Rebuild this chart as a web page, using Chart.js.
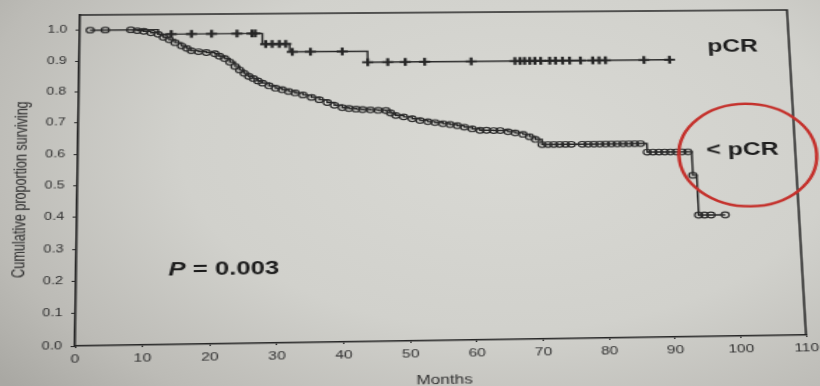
<!DOCTYPE html>
<html>
<head>
<meta charset="utf-8">
<script src="https://cdn.jsdelivr.net/npm/chart.js@4.4.1/dist/chart.umd.min.js"></script>
<style>
  html, body {
    margin: 0;
    width: 820px;
    height: 386px;
    overflow: hidden;
    background: radial-gradient(ellipse 80% 95% at 62% 38%, #d9d9d4 0%, #d1d1cc 50%, #bcbbb6 82%, #a9a8a3 100%);
  }
  #wrap {
    position: absolute;
    left: 0;
    top: 0;
    width: 600px;
    height: 400px;
    transform-origin: 0 0;
    filter: blur(0.4px);
  }
</style>
</head>
<body>
<div id="wrap"><canvas id="chart"></canvas></div>
<script>
// < pCR group: censor circles along the curve (months, proportion surviving)
const lowTimes = [
  1.6, 3.9, 7.8, 8.8, 9.8, 10.9, 12.0, 12.8, 13.7, 14.6, 15.6, 16.4, 17.1, 18.2, 19.4,
  20.7, 21.4, 22.2, 23.0, 23.8, 24.5, 25.2, 25.9, 26.6, 27.3, 28.0, 29.0, 30.0, 31.0,
  32.0, 33.0, 34.2, 35.5, 36.7, 37.9, 39.0, 40.2, 41.2, 42.3, 43.3, 44.5, 45.7, 46.9,
  47.6, 48.4, 49.6, 50.9, 52.1, 53.3, 54.4, 55.6, 56.7, 57.8, 58.9, 60.1, 61.3, 62.3,
  63.4, 64.4, 65.6, 66.7, 67.9, 68.9, 69.8, 70.8, 71.7, 72.6, 73.5, 74.4, 75.3, 77.0,
  77.9, 78.8, 79.7, 80.6, 81.5, 82.4, 83.3, 84.2, 85.1, 86.0, 87.0, 87.9, 88.8, 89.7,
  90.6, 91.5, 92.4, 93.3, 93.9, 94.5, 95.4, 96.4, 98.6
];
const lowSurv = [
  1.000, 1.000, 1.000, 0.997, 0.995, 0.990, 0.985, 0.975, 0.967, 0.957, 0.946, 0.938, 0.930, 0.927, 0.924,
  0.920, 0.912, 0.904, 0.892, 0.878, 0.866, 0.855, 0.845, 0.838, 0.830, 0.823, 0.814, 0.806, 0.801,
  0.795, 0.790, 0.783, 0.775, 0.767, 0.758, 0.749, 0.741, 0.738, 0.736, 0.734, 0.733, 0.731, 0.730,
  0.722, 0.714, 0.709, 0.703, 0.697, 0.693, 0.690, 0.686, 0.683, 0.679, 0.674, 0.668, 0.663, 0.663,
  0.662, 0.662, 0.658, 0.654, 0.649, 0.641, 0.632, 0.615, 0.615, 0.615, 0.615, 0.615, 0.615, 0.615,
  0.615, 0.615, 0.615, 0.615, 0.615, 0.615, 0.615, 0.615, 0.615, 0.615, 0.587, 0.587, 0.587, 0.587,
  0.587, 0.587, 0.587, 0.587, 0.511, 0.383, 0.383, 0.383, 0.383
];

// pCR group: steps of the curve, then the censor crosses
const pcrStepTimes = [1.6, 12.0, 28.0, 32.2, 44.2, 91.1];
const pcrStepSurv = [1.0, 0.985, 0.950, 0.924, 0.888, 0.888];
const pcrCensorTimes = [
  14.0, 17.1, 20.2, 24.1, 26.4, 26.9, 28.5, 29.5, 30.6, 31.6, 32.6, 35.4, 40.3,
  44.2, 47.3, 50.0, 53.0, 60.2, 67.0, 67.8, 68.5, 69.3, 70.1, 71.0, 72.4, 73.3,
  74.4, 75.5, 77.2, 79.1, 80.1, 81.1, 87.1, 91.1
];
const pcrCensorSurv = [
  0.985, 0.985, 0.985, 0.985, 0.985, 0.985, 0.950, 0.950, 0.950, 0.950, 0.924, 0.924, 0.924,
  0.888, 0.888, 0.888, 0.888, 0.888, 0.888, 0.888, 0.888, 0.888, 0.888, 0.888, 0.888, 0.888,
  0.888, 0.888, 0.888, 0.888, 0.888, 0.888, 0.888, 0.888
];

const xTicks = [0, 10, 20, 30, 40, 50, 60, 70, 80, 90, 100, 110];
const yTicks = [0, 0.1, 0.2, 0.3, 0.4, 0.5, 0.6, 0.7, 0.8, 0.9, 1.0];

const ink = "#262626";
const pts = (xs, ys) => xs.map((x, i) => ({ x: x, y: ys[i] }));

// frame, labels, p value and the red ring drawn on top
const extras = {
  id: "extras",
  afterDraw: (chart) => {
    const { ctx, chartArea: a, scales } = chart;
    const sx = scales.x, sy = scales.y;
    ctx.save();
    ctx.strokeStyle = ink;
    ctx.lineWidth = 1.5;
    ctx.beginPath();
    ctx.moveTo(a.left, a.top);
    ctx.lineTo(a.right, a.top);
    ctx.lineTo(a.right, a.bottom);
    ctx.stroke();

    ctx.fillStyle = "#1c1c1c";
    ctx.textAlign = "center";
    ctx.textBaseline = "middle";
    ctx.font = "bold 18px 'Liberation Sans', Arial, sans-serif";
    ctx.fillText("pCR", sx.getPixelForValue(101.1), sy.getPixelForValue(0.929));
    ctx.fillText("< pCR", sx.getPixelForValue(101.8), sy.getPixelForValue(0.59));

    // P = 0.003 with an italic P
    const px = sx.getPixelForValue(22.1), py = sy.getPixelForValue(0.229);
    ctx.font = "italic bold 18px 'Liberation Sans', Arial, sans-serif";
    const wP = ctx.measureText("P").width;
    ctx.font = "bold 18px 'Liberation Sans', Arial, sans-serif";
    const rest = " = 0.003";
    const wR = ctx.measureText(rest).width;
    const x0 = px - (wP + wR) / 2;
    ctx.textAlign = "left";
    ctx.font = "italic bold 18px 'Liberation Sans', Arial, sans-serif";
    ctx.fillText("P", x0, py);
    ctx.font = "bold 18px 'Liberation Sans', Arial, sans-serif";
    ctx.fillText(rest, x0 + wP, py);

    // y axis title
    ctx.save();
    ctx.translate(15.5, 188);
    ctx.rotate(-Math.PI / 2);
    ctx.textAlign = "center";
    ctx.fillStyle = "#2e2e2e";
    ctx.font = "12.5px 'Liberation Sans', Arial, sans-serif";
    ctx.fillText("Cumulative proportion surviving", 0, 0);
    ctx.restore();

    // red ring around < pCR
    ctx.strokeStyle = "#c4302b";
    ctx.lineWidth = 2.5;
    ctx.beginPath();
    ctx.ellipse(sx.getPixelForValue(102.6), sy.getPixelForValue(0.575), 50, 52, 0, 0, Math.PI * 2);
    ctx.stroke();
    ctx.restore();
  },
};

const chart = new Chart(document.querySelector("#chart"), {
  type: "scatter",
  data: {
    datasets: [
      {
        label: "pCR",
        data: pts(pcrStepTimes, pcrStepSurv),
        showLine: true,
        stepped: true,
        borderColor: ink,
        borderWidth: 1.4,
        pointRadius: 0,
      },
      {
        label: "pCR censored",
        data: pts(pcrCensorTimes, pcrCensorSurv),
        showLine: false,
        pointStyle: "cross",
        pointRadius: 4,
        borderColor: ink,
        borderWidth: 2.2,
      },
      {
        label: "< pCR",
        data: pts(lowTimes, lowSurv),
        showLine: true,
        stepped: true,
        borderColor: ink,
        borderWidth: 1.4,
        pointStyle: "circle",
        pointRadius: 2.8,
        pointBorderWidth: 1.2,
        pointBorderColor: "#2a2a2a",
        pointBackgroundColor: "rgba(0,0,0,0)",
      },
    ],
  },
  options: {
    responsive: true,
    maintainAspectRatio: false,
    animation: false,
    events: [],
    layout: { padding: { left: 0, top: 13, right: 32, bottom: 0 } },
    plugins: {
      legend: { display: false },
      tooltip: { enabled: false },
    },
    scales: {
      x: {
        type: "linear",
        min: 0,
        max: 110,
        afterFit: (s) => { s.height = 58; },
        afterBuildTicks: (s) => { s.ticks = xTicks.map((v) => ({ value: v })); },
        grid: { display: true, drawOnChartArea: false, tickLength: 2, color: ink },
        border: { display: true, color: ink, width: 1.6 },
        ticks: {
          padding: 4,
          color: "#2e2e2e",
          font: { family: "'Liberation Sans', Arial, sans-serif", size: 11 },
          maxRotation: 0,
        },
        title: {
          display: true,
          text: "Months",
          color: "#2e2e2e",
          font: { family: "'Liberation Sans', Arial, sans-serif", size: 12 },
          padding: { top: 0, bottom: 12 },
        },
      },
      y: {
        min: 0,
        max: 1.05,
        afterFit: (s) => { s.width = 55; },
        afterBuildTicks: (s) => { s.ticks = yTicks.map((v) => ({ value: v })); },
        grid: { display: true, drawOnChartArea: false, tickLength: 3, color: ink },
        border: { display: true, color: ink, width: 1.6 },
        ticks: {
          padding: 6,
          color: "#2e2e2e",
          font: { family: "'Liberation Sans', Arial, sans-serif", size: 10 },
          callback: (v) => Number(v).toFixed(1),
        },
      },
    },
  },
  plugins: [extras],
});

// the reference is a stretched, slightly tilted photo of the page:
// map the plot frame onto the frame seen in the picture
function homography(src, dst) {
  const A = [], b = [];
  for (let i = 0; i < 4; i++) {
    const [u, v] = src[i], [x, y] = dst[i];
    A.push([u, v, 1, 0, 0, 0, -u * x, -v * x]); b.push(x);
    A.push([0, 0, 0, u, v, 1, -u * y, -v * y]); b.push(y);
  }
  for (let c = 0; c < 8; c++) {
    let p = c;
    for (let r = c + 1; r < 8; r++) if (Math.abs(A[r][c]) > Math.abs(A[p][c])) p = r;
    [A[c], A[p]] = [A[p], A[c]];
    [b[c], b[p]] = [b[p], b[c]];
    for (let r = 0; r < 8; r++) {
      if (r === c) continue;
      const f = A[r][c] / A[c][c];
      for (let k = c; k < 8; k++) A[r][k] -= f * A[c][k];
      b[r] -= f * b[c];
    }
  }
  return b.map((v, i) => v / A[i][i]);
}

const ca = chart.chartArea;
const h = homography(
  [[ca.left, ca.top], [ca.right, ca.top], [ca.right, ca.bottom], [ca.left, ca.bottom]],
  [[80, 15], [787, 10], [806, 335], [75, 346]]
);
document.querySelector("#wrap").style.transform =
  `matrix3d(${h[0]},${h[3]},0,${h[6]},${h[1]},${h[4]},0,${h[7]},0,0,1,0,${h[2]},${h[5]},0,1)`;
</script>
</body>
</html>
